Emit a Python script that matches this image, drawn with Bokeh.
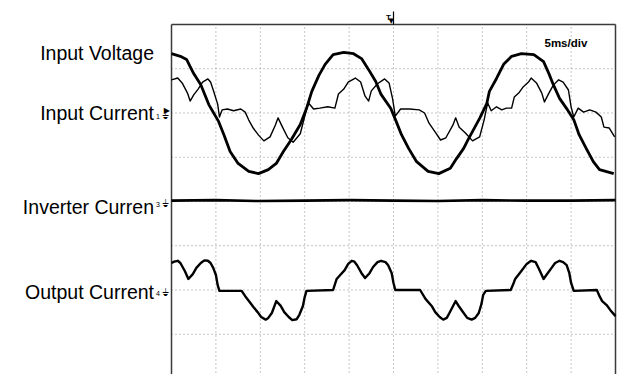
from bokeh.plotting import figure
from bokeh.models import Range1d, Label
from bokeh.embed import file_html
from bokeh.resources import INLINE

# ---------------- data (time in ms, amplitude in screen divisions) ----------------
channel_names = ["Input Voltage", "Input Current", "Inverter Curren", "Output Current"]
channel_marks = ["", "1", "3", "4"]
ground_div = [2.0, 2.0, 0.0, -2.0]
time_per_div_ms = 5
n_xdiv = 10
y_div_ticks = [-3, -2, -1, 0, 1, 2, 3]
time_label = "5ms/div"

v_in_t = [0.0, 1.0, 1.7, 2.1, 2.5, 3.3, 4.2, 5.3, 5.9, 6.6,
          7.5, 8.7, 9.8, 10.9, 11.8, 12.6, 13.5, 14.5, 15.2, 15.8,
          16.6, 17.3, 18.2, 19.4, 20.5, 21.4, 22.2, 23.0, 23.6, 24.7,
          25.3, 25.9, 26.7, 27.6, 28.9, 30.1, 31.4, 32.1, 32.9, 33.4,
          34.7, 35.5, 35.8, 36.6, 37.4, 38.3, 39.4, 40.8, 41.9, 42.5,
          43.0, 43.7, 44.5, 45.3, 45.9, 46.7, 47.5, 48.2, 49.8]
v_in = [1.34, 1.28, 1.21, 1.05, 0.89, 0.64, 0.19, -0.19, -0.49, -0.87,
        -1.14, -1.32, -1.37, -1.28, -1.14, -0.87, -0.60, -0.26, 0.10, 0.49,
        0.85, 1.10, 1.32, 1.37, 1.34, 1.23, 0.98, 0.71, 0.42, 0.10,
        -0.19, -0.49, -0.80, -1.10, -1.32, -1.37, -1.25, -1.03, -0.80, -0.60,
        -0.12, 0.21, 0.49, 0.78, 1.10, 1.28, 1.34, 1.32, 1.16, 0.89,
        0.64, 0.33, 0.10, -0.15, -0.49, -0.80, -1.10, -1.28, -1.37]

i_in_t = [0.0, 0.7, 1.2, 1.8, 2.1, 2.5, 3.0, 3.5, 4.1, 4.4,
          4.7, 5.2, 5.4, 5.7, 6.3, 7.0, 7.8, 8.3, 8.7, 9.2,
          9.8, 10.4, 11.1, 11.7, 12.0, 12.5, 13.1, 13.7, 14.5, 15.1,
          15.4, 16.0, 16.7, 17.6, 18.4, 18.8, 19.4, 19.9, 20.7, 21.3,
          21.8, 22.2, 22.5, 23.2, 24.0, 24.5, 24.9, 25.2, 25.8, 26.8,
          27.9, 28.5, 29.0, 29.7, 30.3, 30.9, 31.7, 32.0, 32.4, 33.1,
          33.9, 34.7, 35.2, 35.6, 36.0, 36.6, 37.2, 37.7, 38.3, 38.6,
          39.1, 39.6, 40.2, 40.5, 41.1, 41.7, 42.0, 42.5, 43.0, 43.6,
          44.1, 44.7, 45.0, 45.3, 45.8, 46.4, 47.1, 47.8, 48.4, 48.7,
          49.3, 49.9]
i_in = [0.75, 0.79, 0.68, 0.45, 0.27, 0.41, 0.54, 0.70, 0.77, 0.70,
        0.52, 0.20, -0.09, 0.07, 0.09, 0.05, 0.09, 0.02, -0.16, -0.34,
        -0.50, -0.63, -0.54, -0.27, -0.11, -0.32, -0.56, -0.66, -0.47, 0.00,
        0.23, 0.09, 0.11, 0.14, 0.11, 0.43, 0.54, 0.70, 0.79, 0.70,
        0.38, 0.27, 0.50, 0.66, 0.77, 0.68, 0.32, -0.07, 0.09, 0.09,
        0.07, 0.00, -0.23, -0.43, -0.61, -0.56, -0.27, -0.11, -0.32, -0.45,
        -0.63, -0.54, -0.16, 0.23, 0.05, 0.14, 0.07, 0.11, 0.11, 0.36,
        0.45, 0.59, 0.70, 0.79, 0.68, 0.45, 0.25, 0.45, 0.63, 0.75,
        0.70, 0.52, 0.14, -0.09, 0.11, 0.02, 0.07, 0.02, -0.09, -0.32,
        -0.34, -0.54]

inv_t = [0, 5, 10, 15, 20, 25, 30, 35, 40, 45, 50]
inv_i = [0.02, 0.03, 0.01, 0.02, 0.03, 0.02, 0.01, 0.03, 0.02, 0.02, 0.03]

out_t = [0.0, 0.3, 0.7, 1.0, 1.5, 1.9, 2.4, 2.8, 3.3, 3.7,
         4.1, 4.4, 4.7, 5.0, 5.2, 5.4, 7.9, 8.3, 8.8, 9.2,
         9.7, 10.1, 10.6, 10.9, 11.3, 11.8, 12.3, 12.7, 13.2, 13.6,
         14.1, 14.4, 14.8, 15.0, 15.2, 18.2, 18.6, 19.0, 19.5, 19.9,
         20.3, 20.6, 20.9, 21.4, 21.8, 22.3, 22.7, 23.2, 23.6, 24.1,
         24.4, 24.8, 25.0, 25.2, 28.0, 28.6, 29.3, 29.7, 30.2, 30.6,
         31.0, 31.3, 32.0, 32.4, 32.9, 33.3, 33.8, 34.2, 34.6, 34.9,
         35.1, 35.4, 38.2, 38.5, 38.7, 39.4, 40.0, 40.5, 41.0, 41.4,
         41.9, 42.3, 42.8, 43.2, 43.7, 44.1, 44.5, 44.8, 45.0, 45.3,
         47.9, 48.2, 48.5, 49.0, 49.4, 50.0]
out_i = [0.61, 0.64, 0.66, 0.61, 0.43, 0.25, 0.36, 0.50, 0.61, 0.67,
         0.66, 0.61, 0.50, 0.34, 0.11, -0.02, -0.02, -0.14, -0.27, -0.38,
         -0.50, -0.61, -0.67, -0.63, -0.52, -0.25, -0.36, -0.50, -0.61, -0.68,
         -0.66, -0.56, -0.36, -0.16, -0.02, 0.00, 0.25, 0.34, 0.45, 0.59,
         0.66, 0.64, 0.56, 0.38, 0.27, 0.38, 0.52, 0.63, 0.66, 0.63,
         0.56, 0.38, 0.16, 0.00, 0.00, -0.20, -0.36, -0.50, -0.61, -0.67,
         -0.63, -0.52, -0.25, -0.38, -0.52, -0.63, -0.67, -0.63, -0.52, -0.32,
         -0.11, -0.02, 0.00, 0.14, 0.25, 0.43, 0.59, 0.66, 0.63, 0.47,
         0.25, 0.36, 0.50, 0.61, 0.66, 0.63, 0.56, 0.38, 0.16, -0.02,
         0.00, -0.14, -0.25, -0.34, -0.45, -0.59]

# ---------------- layout geometry ----------------
W, H = 624, 374
X0, Y0 = 171, 24              # screen top-left corner (px)
PX_X, PX_Y = 44.4, 44.25      # px per division
t_per_px = time_per_div_ms / PX_X


def tx(px):
    return (px - X0) * t_per_px


def vy(py):
    return 4.0 - (py - Y0) / PX_Y


T_END = n_xdiv * time_per_div_ms
FONT = "Liberation Sans"

p = figure(width=W, height=H,
           x_range=Range1d(tx(0), tx(W)), y_range=Range1d(vy(H), vy(0)),
           x_axis_type=None, y_axis_type=None,
           min_border=0, output_backend="svg", toolbar_location=None)
p.outline_line_color = None
p.background_fill_color = "white"
p.border_fill_color = "white"

# dotted graticule
xg = [k * time_per_div_ms for k in range(1, n_xdiv)]
p.segment(x0=xg, x1=xg, y0=[vy(H + 10)] * len(xg), y1=[4.0] * len(xg),
          line_color="#8a8a8a", line_dash="1 3", line_width=1)
p.segment(x0=[0] * len(y_div_ticks), x1=[T_END] * len(y_div_ticks), y0=y_div_ticks, y1=y_div_ticks,
          line_color="#8a8a8a", line_dash="1 3", line_width=1)

# screen border (left, top, right)
p.segment(x0=[0, 0, T_END], x1=[0, T_END, T_END], y0=[vy(H + 10), 4.0, vy(H + 10)], y1=[4.0, 4.0, 4.0],
          line_color="#3a3a3a", line_width=1.5)

# traces
p.line(i_in_t, [v + ground_div[1] for v in i_in], line_color="black", line_width=1.4, line_join="round")
p.line(v_in_t, [v + ground_div[0] for v in v_in], line_color="black", line_width=2.8, line_join="round")
p.line(inv_t, [v + ground_div[2] for v in inv_i], line_color="black", line_width=2.6, line_join="round")
p.line(out_t, [v + ground_div[3] for v in out_i], line_color="black", line_width=2.4, line_join="round")

# channel name labels (baseline px)
name_base_px = [52.7, 112.3, 206.0, 291.5]
for name, by in zip(channel_names, name_base_px):
    p.add_layout(Label(x=tx(153.5), y=vy(by), text=name, text_align="right", text_baseline="alphabetic",
                       text_font=FONT, text_font_size="19.5px", text_color="black"))

# channel ground markers
for mark, g in zip(channel_marks, ground_div):
    if not mark:
        continue
    p.add_layout(Label(x=tx(155.5), y=g - 3 / PX_Y, text=mark, text_align="left", text_baseline="alphabetic",
                       text_font=FONT, text_font_size="7px", text_color="black"))
    p.add_layout(Label(x=tx(168), y=g - 2 / PX_Y, text="⏚", text_align="right", text_baseline="middle",
                       text_font="DejaVu Sans", text_font_size="10px", text_color="black"))
p.add_layout(Label(x=tx(169.5), y=ground_div[1] + 3 / PX_Y, text="▶", text_align="right", text_baseline="middle",
                   text_font="DejaVu Sans", text_font_size="8px", text_color="black"))

# trigger marker
p.add_layout(Label(x=tx(390.5), y=vy(16.5), text="T", text_align="right", text_baseline="alphabetic",
                   text_font=FONT, text_font_style="bold", text_font_size="8px", text_color="black"))
p.add_layout(Label(x=tx(393.5), y=4.0, text="▼", text_align="right", text_baseline="bottom",
                   text_font="DejaVu Sans", text_font_size="7px", text_color="black"))
p.segment(x0=[T_END / 2], x1=[T_END / 2], y0=[4.0], y1=[vy(11)], line_color="black", line_width=1.2)

# time base
p.add_layout(Label(x=tx(544), y=vy(42), text=time_label, text_align="left", text_baseline="alphabetic",
                   text_font=FONT, text_font_style="bold", text_font_size="11.5px", text_color="black"))

open("out.html", "w").write(file_html(p, INLINE))
